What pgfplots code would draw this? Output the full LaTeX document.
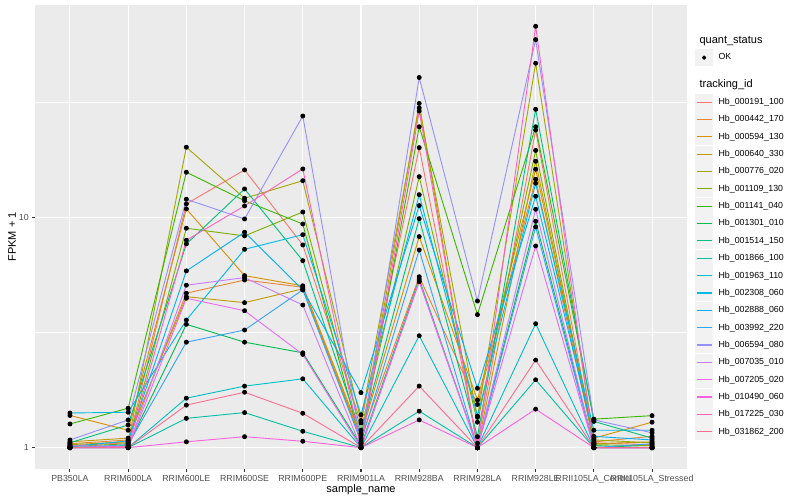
\documentclass[border=0pt]{standalone}
\usepackage{fontspec}
\setmainfont{Liberation Sans}
\usepackage{pgfplots}
\pgfplotsset{compat=1.18}
\usepackage{pgfplotstable}

% ggplot2 hue palette, 20 levels
\definecolor{c1}{HTML}{F8766D}
\definecolor{c2}{HTML}{EA8331}
\definecolor{c3}{HTML}{D89000}
\definecolor{c4}{HTML}{C09B00}
\definecolor{c5}{HTML}{A3A500}
\definecolor{c6}{HTML}{7CAE00}
\definecolor{c7}{HTML}{39B600}
\definecolor{c8}{HTML}{00BB4E}
\definecolor{c9}{HTML}{00BF7D}
\definecolor{c10}{HTML}{00C1A3}
\definecolor{c11}{HTML}{00BFC4}
\definecolor{c12}{HTML}{00BAE0}
\definecolor{c13}{HTML}{00B0F6}
\definecolor{c14}{HTML}{35A2FF}
\definecolor{c15}{HTML}{9590FF}
\definecolor{c16}{HTML}{C77CFF}
\definecolor{c17}{HTML}{E76BF3}
\definecolor{c18}{HTML}{FA62DB}
\definecolor{c19}{HTML}{FF62BC}
\definecolor{c20}{HTML}{FF6C91}
\definecolor{panelbg}{HTML}{EBEBEB}
\definecolor{keybg}{HTML}{F2F2F2}
\definecolor{tickc}{HTML}{333333}
\definecolor{labelc}{HTML}{4D4D4D}

% FPKM + 1, one row per sample, one column per tracking_id
\pgfplotstableread{
x s1 s2 s3 s4 s5 s6 s7 s8 s9 s10 s11 s12 s13 s14 s15 s16 s17 s18 s19 s20
1 1.02 1.04 1.38 1.06 1.03 1.01 1.267 1.00 1.05 1.00 1.00 1.414 1.01 1.00 1.08 1.02 1.00 1.00 1.00 1.00
2 1.05 1.08 1.19 1.10 1.06 1.04 1.483 1.02 1.255 1.00 1.00 1.425 1.07 1.03 1.319 1.01 1.00 1.00 1.01 1.00
3 11.42 4.68 10.87 4.52 20.13 8.96 15.68 3.43 7.66 1.34 1.64 3.58 5.85 2.87 11.97 5.07 4.45 1.06 7.95 1.53
4 16.05 5.34 5.58 4.26 12.09 8.30 11.80 2.87 13.27 1.42 1.85 7.26 8.61 3.24 9.83 5.47 3.93 1.116 11.20 1.74
5 7.58 4.97 5.04 4.89 14.41 10.54 9.35 2.58 6.48 1.178 1.99 8.40 4.84 4.84 27.5 4.16 2.54 1.066 16.21 1.41
6 1.28 1.10 1.13 1.08 1.31 1.19 1.05 1.02 1.15 1.00 1.00 1.39 1.733 1.06 1.04 1.00 1.00 1.00 1.00 1.00
7 20.05 5.52 8.24 31.2 29.8 15.0 24.7 5.40 9.86 1.44 3.06 12.53 11.23 7.21 40.4 5.30 5.25 1.32 28.9 1.85
8 1.045 1.54 1.61 1.00 1.355 1.29 3.78 1.00 1.116 1.00 1.00 1.37 1.81 1.00 4.33 1.00 1.00 1.00 1.00 1.00
9 23.9 14.62 16.16 17.5 46.6 19.5 24.7 9.61 29.4 1.97 3.45 14.05 12.34 9.08 59.0 10.83 7.51 1.47 67.4 2.40
10 1.05 1.06 1.10 1.04 1.08 1.03 1.33 1.02 1.30 1.00 1.00 1.19 1.12 1.00 1.32 1.00 1.00 1.00 1.00 1.00
11 1.03 1.12 1.29 1.06 1.05 1.02 1.377 1.00 1.10 1.00 1.00 1.19 1.08 1.04 1.16 1.00 1.00 1.00 1.00 1.00
}\fpkm

\begin{document}
\begin{tikzpicture}
\path[use as bounding box] (0pt,0pt) rectangle (800pt,500pt);
\begin{axis}[
  at={(35pt,31pt)}, anchor=south west,
  scale only axis, width=652pt, height=464pt,
  xmin=0.4, xmax=11.6,
  ymode=log, ymin=0.808, ymax=83.4,
  axis background/.style={fill=panelbg},
  axis line style={draw=none},
  xtick={1,...,11},
  xticklabels={PB350LA,RRIM600LA,RRIM600LE,RRIM600SE,RRIM600PE,RRIM901LA,RRIM928BA,RRIM928LA,RRIM928LE,RRII105LA\_Control,RRII105LA\_Stressed},
  ytick={1,10}, yticklabels={1,10},
  minor ytick={3.1623,31.623},
  xmajorgrids, ymajorgrids, yminorgrids,
  major grid style={white, line width=1.07pt},
  minor grid style={white, line width=0.53pt},
  tick align=outside, xtick pos=bottom, ytick pos=left,
  major tick length=2.75pt, minor tick length=0pt,
  tick style={tickc, line width=1.07pt},
  ticklabel style={font=\fontsize{8.8}{10}\selectfont, text=labelc},
  xlabel={sample\_name}, ylabel={FPKM + 1},
  label style={font=\fontsize{11}{13}\selectfont},
  xlabel style={at={(axis description cs:0.5,-0.0453)}, anchor=center},
  ylabel style={at={(axis description cs:-0.0353,0.5)}, anchor=center},
  every axis plot/.append style={line width=0.9pt, line join=round},
  legend cell align=left,
  legend style={at={(1.0123,0.9052)}, anchor=north west, draw=none, fill=none,
    inner sep=0pt, row sep=0.44pt, column sep=1.5pt,
    font=\fontsize{8.8}{10}\selectfont,
    nodes={inner xsep=4pt, inner ysep=0pt}},
  legend image code/.code={\fill[keybg] (0pt,-8pt) rectangle (17pt,8pt);
    \draw[line width=1.2pt] (1pt,0pt) -- (16pt,0pt);},
]
\addlegendimage{legend image code/.code={\fill[keybg] (0pt,-8pt) rectangle (17pt,8pt);
    \fill[black] (8.5pt,0pt) circle (1.7pt);}}
\addlegendentry{OK}
\addlegendimage{empty legend}
\addlegendentry{\rule{0pt}{25.26pt}}

\addplot[c1] table[x=x,y=s1] {\fpkm}; \addlegendentry{Hb\_000191\_100}
\addplot[c2] table[x=x,y=s2] {\fpkm}; \addlegendentry{Hb\_000442\_170}
\addplot[c3] table[x=x,y=s3] {\fpkm}; \addlegendentry{Hb\_000594\_130}
\addplot[c4] table[x=x,y=s4] {\fpkm}; \addlegendentry{Hb\_000640\_330}
\addplot[c5] table[x=x,y=s5] {\fpkm}; \addlegendentry{Hb\_000776\_020}
\addplot[c6] table[x=x,y=s6] {\fpkm}; \addlegendentry{Hb\_001109\_130}
\addplot[c7] table[x=x,y=s7] {\fpkm}; \addlegendentry{Hb\_001141\_040}
\addplot[c8] table[x=x,y=s8] {\fpkm}; \addlegendentry{Hb\_001301\_010}
\addplot[c9] table[x=x,y=s9] {\fpkm}; \addlegendentry{Hb\_001514\_150}
\addplot[c10] table[x=x,y=s10] {\fpkm}; \addlegendentry{Hb\_001866\_100}
\addplot[c11] table[x=x,y=s11] {\fpkm}; \addlegendentry{Hb\_001963\_110}
\addplot[c12] table[x=x,y=s12] {\fpkm}; \addlegendentry{Hb\_002308\_060}
\addplot[c13] table[x=x,y=s13] {\fpkm}; \addlegendentry{Hb\_002888\_060}
\addplot[c14] table[x=x,y=s14] {\fpkm}; \addlegendentry{Hb\_003992\_220}
\addplot[c15] table[x=x,y=s15] {\fpkm}; \addlegendentry{Hb\_006594\_080}
\addplot[c16] table[x=x,y=s16] {\fpkm}; \addlegendentry{Hb\_007035\_010}
\addplot[c17] table[x=x,y=s17] {\fpkm}; \addlegendentry{Hb\_007205\_020}
\addplot[c18] table[x=x,y=s18] {\fpkm}; \addlegendentry{Hb\_010490\_060}
\addplot[c19] table[x=x,y=s19] {\fpkm}; \addlegendentry{Hb\_017225\_030}
\addplot[c20] table[x=x,y=s20] {\fpkm}; \addlegendentry{Hb\_031862\_200}

% points on top of all lines (quant_status = OK)
\pgfplotsinvokeforeach{1,...,20}{
  \addplot[forget plot, only marks, mark=*, mark size=2pt, black] table[x=x,y=s#1] {\fpkm};
}
\end{axis}
\node[anchor=west, font=\fontsize{11}{13}\selectfont] at (696pt,458.5pt) {quant\_status};
\node[anchor=west, font=\fontsize{11}{13}\selectfont] at (696pt,415.5pt) {tracking\_id};
\end{tikzpicture}
\end{document}
